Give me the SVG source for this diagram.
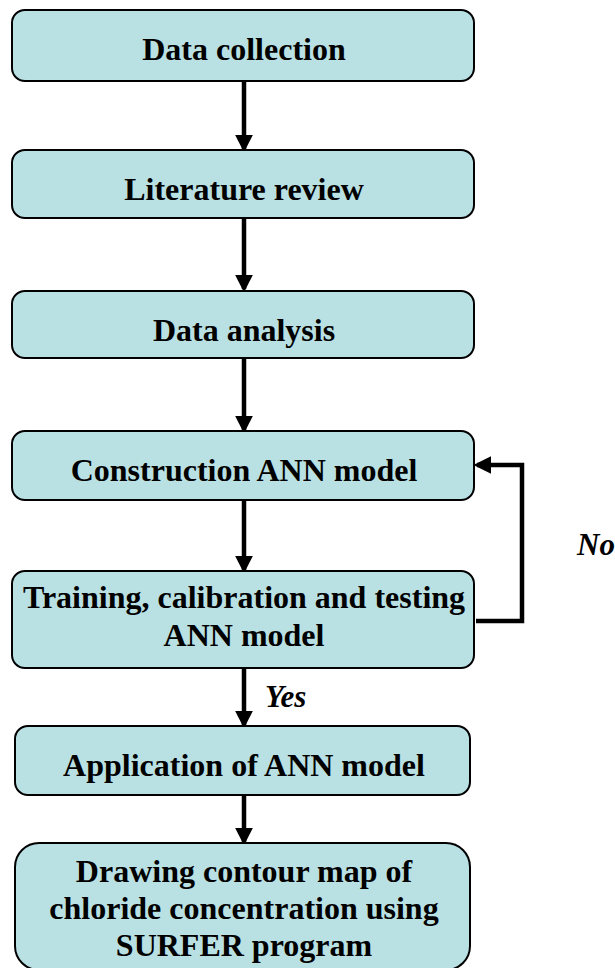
<svg xmlns="http://www.w3.org/2000/svg" width="615" height="968" viewBox="0 0 615 968">
<style>
.box{fill:#b9e0e3;stroke:#000;stroke-width:2}
.t{font-family:"Liberation Serif","Times New Roman",serif;font-weight:bold;font-size:32px;text-anchor:middle;fill:#000}
.lbl{font-family:"Liberation Serif","Times New Roman",serif;font-weight:bold;font-style:italic;font-size:31px;fill:#000}
.c{fill:none;stroke:#000;stroke-width:4.5}
</style>
<defs>
<marker id="ah" markerWidth="4" markerHeight="4" refX="3.2" refY="2" orient="auto" markerUnits="strokeWidth">
<path d="M0,0 L4,2 L0,4 Z" fill="#000"/>
</marker>
</defs>
<rect width="615" height="968" fill="#fff"/>
<g id="connectors">
<line class="c" x1="244" y1="82" x2="244" y2="149" marker-end="url(#ah)"/>
<line class="c" x1="244" y1="219" x2="244" y2="289" marker-end="url(#ah)"/>
<line class="c" x1="244" y1="359" x2="244" y2="430" marker-end="url(#ah)"/>
<line class="c" x1="244" y1="501" x2="244" y2="570" marker-end="url(#ah)"/>
<line class="c" x1="244" y1="669" x2="244" y2="725" marker-end="url(#ah)"/>
<line class="c" x1="244" y1="796" x2="244" y2="842" marker-end="url(#ah)"/>
<polyline class="c" points="476,621 522,621 522,465 477,465" marker-end="url(#ah)"/>
<text class="lbl" x="265" y="707">Yes</text>
<text class="lbl" x="577" y="555">No</text>
</g>
<g id="n1"><rect class="box" x="12" y="10" width="462" height="71" rx="13"/><text class="t" x="244" y="60">Data collection</text></g>
<g id="n2"><rect class="box" x="12" y="150" width="462" height="68" rx="13"/><text class="t" x="244" y="200">Literature review</text></g>
<g id="n3"><rect class="box" x="12" y="291" width="462" height="67" rx="13"/><text class="t" x="244" y="341">Data analysis</text></g>
<g id="n4"><rect class="box" x="12" y="431" width="462" height="69" rx="13"/><text class="t" x="244" y="481">Construction ANN model</text></g>
<g id="n5"><rect class="box" x="12" y="571" width="462" height="97" rx="13"/><text class="t" x="244" y="608">Training, calibration and testing</text><text class="t" x="244" y="646">ANN model</text></g>
<g id="n6"><rect class="box" x="15" y="726" width="455" height="69" rx="13"/><text class="t" x="244" y="776">Application of ANN model</text></g>
<g id="n7"><rect class="box" x="15" y="843" width="455" height="127" rx="24"/><text class="t" x="244" y="882">Drawing contour map of</text><text class="t" x="244" y="919">chloride concentration using</text><text class="t" x="244" y="956">SURFER program</text></g>
</svg>
